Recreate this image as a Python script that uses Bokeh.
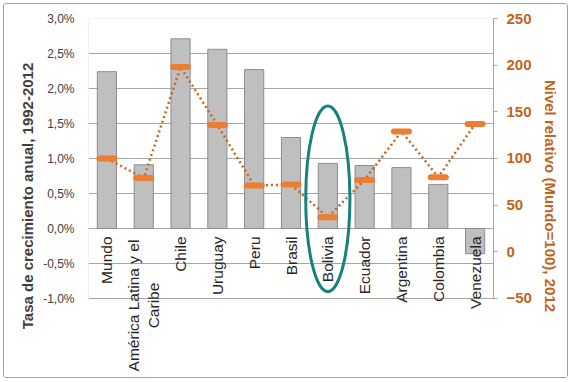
import math
from bokeh.plotting import figure
from bokeh.models import (FactorRange, Range1d, LinearAxis, FixedTicker,
                          CustomJSTickFormatter, BoxAnnotation, ColumnDataSource)
from bokeh.core.properties import value
from bokeh.embed import file_html
from bokeh.resources import INLINE

# ---- data ----
countries = ["Mundo", "América Latina y el Caribe", "Chile", "Uruguay", "Peru",
             "Brasil", "Bolivia", "Ecuador", "Argentina", "Colombia", "Venezuela"]
growth_pct = [2.24, 0.91, 2.71, 2.56, 2.27, 1.30, 0.93, 0.90, 0.87, 0.63, -0.36]
relative_level = [100, 79, 198, 136, 71, 72, 37, 77, 129, 80, 137]
left_ticks = [-1.0, -0.5, 0.0, 0.5, 1.0, 1.5, 2.0, 2.5, 3.0]
right_ticks = [-50, 0, 50, 100, 150, 200, 250]
highlight_country = "Bolivia"
highlight_center_pct = 0.424
highlight_height_pct = 2.65
highlight_width_cat = 1.2

FONT = "Liberation Sans"
GRAY_TXT = "#404040"
ORANGE_TXT = "#c0651c"

p = figure(width=565, height=375, output_backend="svg", toolbar_location=None,
           x_range=FactorRange(factors=countries, range_padding=0),
           y_range=Range1d(-2.0714, 3.0),
           min_border_left=84, min_border_right=76, min_border_top=14, min_border_bottom=6,
           background_fill_color="white", border_fill_color="white",
           outline_line_color=None)
p.extra_y_ranges = {"right": Range1d(-130.4, 250)}
p.styles = {"border": "1.5px solid #a0a0a0", "border-radius": "3px",
            "box-sizing": "border-box", "margin": "3px 0 0 3px"}

p.xaxis.visible = False
p.xgrid.visible = False

# left axis
yax = p.yaxis[0]
yax.ticker = FixedTicker(ticks=left_ticks)
yax.formatter = CustomJSTickFormatter(code="return tick.toFixed(1).replace('.', ',') + '%';")
yax.bounds = (-1.0, 3.0)
yax.axis_line_color = None
yax.major_tick_line_color = None
yax.major_tick_out = 0
yax.major_tick_in = 0
yax.minor_tick_line_color = None
yax.minor_tick_out = 0
yax.major_label_text_font = FONT
yax.major_label_text_font_size = "12px"
yax.major_label_text_color = GRAY_TXT
yax.major_label_standoff = 14
yax.axis_label = "Tasa de crecimiento anual, 1992-2012"
yax.axis_label_text_font = FONT
yax.axis_label_text_font_size = "15px"
yax.axis_label_text_font_style = "bold"
yax.axis_label_text_color = GRAY_TXT
yax.axis_label_standoff = 4

p.ygrid.ticker = FixedTicker(ticks=left_ticks)
p.ygrid.grid_line_color = "#a6a6a6"
p.ygrid.grid_line_width = 1

# right axis
rax = LinearAxis(y_range_name="right", ticker=FixedTicker(ticks=right_ticks),
                 bounds=(-50, 250))
rax.axis_line_color = "#a6a6a6"
rax.major_tick_line_color = "#a6a6a6"
rax.major_tick_out = 4
rax.major_tick_in = 0
rax.minor_tick_line_color = None
rax.major_label_text_font = FONT
rax.major_label_text_font_size = "15px"
rax.major_label_text_font_style = "bold"
rax.major_label_text_color = ORANGE_TXT
rax.major_label_standoff = 9
rax.axis_label = "Nivel relativo (Mundo=100), 2012"
rax.axis_label_text_font = FONT
rax.axis_label_text_font_size = "15px"
rax.axis_label_text_font_style = "bold"
rax.axis_label_text_color = ORANGE_TXT
rax.axis_label_standoff = 7
p.add_layout(rax, "right")

# plot area frame
p.add_layout(BoxAnnotation(bottom=-1.0, top=3.0, fill_color=None,
                           line_color="#a6a6a6", line_width=1))

src = ColumnDataSource(dict(c=countries, g=growth_pct, r=relative_level))

p.vbar(x="c", top="g", bottom=0, width=0.52, source=src,
       fill_color="#bfbfbf", line_color="#8c8c8c", line_width=1)

# category labels
single = [c if c != "América Latina y el Caribe" else "" for c in countries]
p.text(x=countries, y=[0] * len(countries), text=single, angle=math.pi / 2,
       text_align="right", text_baseline="middle", y_offset=8,
       text_font=value(FONT), text_font_size="15.5px", text_color="#262626")
p.text(x=["América Latina y el Caribe"], y=[0], text=["América Latina y el\nCaribe"],
       angle=math.pi / 2, text_align="center", text_baseline="middle", y_offset=77,
       text_line_height=1.15,
       text_font=value(FONT), text_font_size="15.5px", text_color="#262626")

p.line(x="c", y="r", source=src, y_range_name="right",
       line_color="#c8661e", line_width=2.5, line_dash="2 3")
p.scatter(x="c", y="r", source=src, y_range_name="right", marker="dash",
          size=15, line_width=6, line_cap="round", line_color="#ed7d31")

p.ellipse(x=[highlight_country], y=[highlight_center_pct], width=highlight_width_cat,
          height=highlight_height_pct, fill_color=None, line_color="#17817f", line_width=3)

open("out.html", "w").write(file_html(p, INLINE))
